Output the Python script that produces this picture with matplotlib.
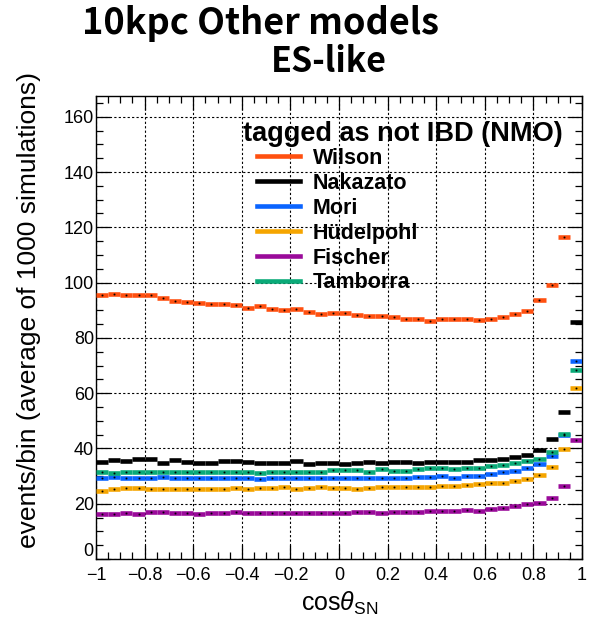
import numpy as np
import matplotlib
matplotlib.use("Agg")
import matplotlib.pyplot as plt
from matplotlib.lines import Line2D
from matplotlib.ticker import MultipleLocator

plt.rcParams['font.family'] = ['Liberation Sans', 'DejaVu Sans']
plt.rcParams['mathtext.fontset'] = 'custom'
plt.rcParams['mathtext.rm'] = 'Liberation Sans'
plt.rcParams['mathtext.it'] = 'Liberation Sans:italic'

# 40 bins in cos(theta_SN) from -1 to 1
bin_edges = np.linspace(-1.0, 1.0, 41)

wilson = [95.4, 95.9, 95.6, 95.5, 95.4, 94.4, 93.2, 93.1, 92.6, 92.4,
          92.3, 91.8, 90.7, 91.7, 90.6, 90.0, 90.3, 89.2, 88.8, 88.9,
          89.0, 88.4, 88.0, 88.0, 87.6, 86.8, 86.8, 86.1, 86.8, 86.8,
          86.8, 86.5, 86.8, 87.4, 88.5, 89.6, 93.7, 99.0, 116.5, 185.0]
nakazato = [35.2, 35.8, 35.4, 36.0, 36.0, 34.8, 35.7, 35.2, 34.9, 34.9,
            35.3, 35.3, 35.2, 34.7, 34.8, 34.8, 35.3, 34.5, 34.9, 34.9,
            34.5, 34.8, 35.2, 34.8, 35.1, 35.1, 34.8, 35.1, 35.1, 35.1,
            35.1, 35.7, 35.7, 36.0, 36.8, 37.6, 39.6, 43.4, 53.0, 85.8]
mori = [29.4, 29.5, 29.3, 29.4, 29.2, 29.5, 29.2, 29.3, 29.4, 29.2,
        29.4, 29.2, 29.2, 28.8, 29.4, 29.4, 29.3, 29.3, 29.3, 29.4,
        29.4, 29.2, 29.4, 29.4, 29.4, 29.2, 29.8, 29.8, 29.9, 29.4,
        30.0, 30.0, 30.9, 31.3, 31.8, 32.8, 34.2, 37.4, 45.0, 71.8]
hudelpohl = [24.6, 25.2, 25.6, 25.7, 25.2, 25.2, 25.2, 25.2, 25.2, 25.2,
             25.2, 25.7, 25.2, 25.6, 25.6, 25.9, 25.3, 25.7, 26.0, 25.8,
             25.8, 25.4, 25.6, 25.9, 25.9, 25.9, 26.2, 26.2, 26.4, 26.4,
             26.6, 27.0, 27.5, 27.5, 28.2, 29.0, 30.4, 33.2, 39.8, 62.0]
fischer = [16.3, 16.3, 16.7, 16.3, 17.0, 17.0, 16.7, 16.7, 16.3, 16.7,
           16.7, 17.0, 16.7, 16.7, 16.7, 16.7, 16.7, 16.7, 16.7, 16.5,
           16.5, 16.9, 16.9, 16.6, 16.9, 16.9, 17.1, 17.4, 17.4, 17.4,
           17.7, 17.5, 18.0, 18.3, 19.1, 19.9, 20.4, 22.2, 26.3, 42.9]
tamborra = [31.3, 31.1, 31.6, 31.6, 31.6, 31.6, 31.6, 31.3, 31.3, 31.6,
            31.6, 31.3, 31.6, 31.2, 31.6, 31.6, 31.6, 31.6, 31.6, 32.1,
            32.1, 32.1, 31.6, 32.4, 31.9, 31.9, 32.4, 32.8, 32.8, 32.4,
            33.1, 33.1, 33.6, 34.1, 34.7, 35.3, 36.2, 38.6, 45.2, 68.2]

models = ["Wilson", "Nakazato", "Mori", "H\u00fcdelpohl", "Fischer", "Tamborra"]
series = [wilson, nakazato, mori, hudelpohl, fischer, tamborra]
colors = ["#ff5010", "#000000", "#0a64ff", "#f5a500", "#9a0a9a", "#0aaa78"]

fig = plt.figure(figsize=(5.9, 6.21), dpi=100)
W, H = 590, 621
left, right, bottom, top = 96, 582, 559, 96
ax = fig.add_axes([left / W, 1 - bottom / H, (right - left) / W, (bottom - top) / H])

lo = bin_edges[:-1]
hi = bin_edges[1:]
centers = 0.5 * (lo + hi)
for vals, col in zip(series, colors):
    v = np.asarray(vals)
    ax.hlines(v, lo, hi, colors=col, lw=3.3, capstyle='butt', zorder=3)
    ax.plot(centers, v, ls='none', marker='s', ms=0.9, color='black',
            mec='black', mew=0.3, zorder=4)

ax.set_xlim(-1, 1)
ax.set_ylim(0, 167.5)

ax.xaxis.set_major_locator(MultipleLocator(0.2))
ax.xaxis.set_minor_locator(MultipleLocator(0.05))
ax.yaxis.set_major_locator(MultipleLocator(20))
ax.yaxis.set_minor_locator(MultipleLocator(5))
ax.xaxis.set_major_formatter(plt.FuncFormatter(
    lambda x, p: ('%g' % round(x, 2)).replace('-', '\u2212')))
# the zero label is drawn separately, lifted clear of the x labels
ax.yaxis.set_major_formatter(plt.FuncFormatter(
    lambda y, p: '' if abs(y) < 1e-9 else '%d' % round(y)))
ax.tick_params(which='both', direction='in', top=True, right=True,
               labelsize=13, width=0.9)
ax.tick_params(which='major', length=10)
ax.tick_params(which='minor', length=5)
ax.tick_params(axis='x', pad=6)
ax.tick_params(axis='y', pad=1.5)
ax.annotate('0', xy=(0, 0), xycoords='axes fraction', xytext=(-3, 8),
            textcoords='offset pixels', ha='right', va='center', fontsize=13)

ax.grid(True, which='major', color='black', lw=0.8, ls=(0, (2, 2)))
for s in ax.spines.values():
    s.set_linewidth(1.0)

fig.text(340 / W, 1 - 603 / H, r'cos$\theta_{\rm SN}$', ha='center',
         va='center', fontsize=18)
fig.text(29 / W, 1 - 310 / H, 'events/bin (average of 1000 simulations)',
         rotation=90, ha='center', va='center', fontsize=19)

fig.text(260 / W, 1 - 23 / H, '10kpc Other models', ha='center', va='center',
         fontsize=26, fontweight='bold',
         family=['Noto Sans CJK JP', 'DejaVu Sans'])
fig.text(329 / W, 1 - 62 / H, 'ES-like', ha='center', va='center',
         fontsize=24.5, fontweight='bold',
         family=['Noto Sans CJK JP', 'DejaVu Sans'])

ax.text((243 - left) / (right - left), 1 - (134 - top) / (bottom - top),
        'tagged as not IBD (NMO)', transform=ax.transAxes, ha='left',
        va='center', fontsize=19.5, fontweight='bold', zorder=6)

handles = [Line2D([], [], color=c, lw=3.3) for c in colors]
leg = ax.legend(handles, models,
                loc='upper left',
                bbox_to_anchor=((257 - left) / (right - left),
                                1 - (148 - top) / (bottom - top)),
                frameon=False, handlelength=2.0,
                handletextpad=0.6, labelspacing=0.18, borderaxespad=0,
                borderpad=0,
                prop={'weight': 'bold', 'size': 15.5})

fig.savefig('out.png', dpi=100)
